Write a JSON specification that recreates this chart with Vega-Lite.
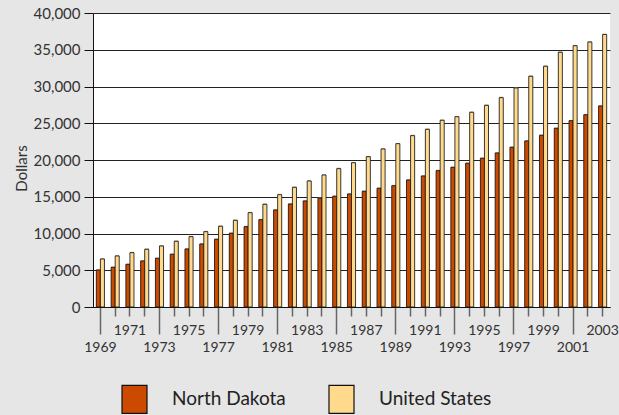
{
  "$schema": "https://vega.github.io/schema/vega-lite/v6.json",
  "width": 517,
  "height": 294,
  "autosize": "none",
  "padding": {"left": 93, "top": 13, "right": 9, "bottom": 108},
  "background": "#e6e6e6",
  "config": {
    "view": {"fill": "white", "stroke": null},
    "font": "Lato"
  },
  "data": {
    "values": [
      {"year": 1969, "series": "North Dakota", "value": 5030}, {"year": 1969, "series": "United States", "value": 6530},
      {"year": 1970, "series": "North Dakota", "value": 5400}, {"year": 1970, "series": "United States", "value": 6940},
      {"year": 1971, "series": "North Dakota", "value": 5800}, {"year": 1971, "series": "United States", "value": 7390},
      {"year": 1972, "series": "North Dakota", "value": 6260}, {"year": 1972, "series": "United States", "value": 7850},
      {"year": 1973, "series": "North Dakota", "value": 6620}, {"year": 1973, "series": "United States", "value": 8300},
      {"year": 1974, "series": "North Dakota", "value": 7170}, {"year": 1974, "series": "United States", "value": 8940},
      {"year": 1975, "series": "North Dakota", "value": 7890}, {"year": 1975, "series": "United States", "value": 9570},
      {"year": 1976, "series": "North Dakota", "value": 8570}, {"year": 1976, "series": "United States", "value": 10250},
      {"year": 1977, "series": "North Dakota", "value": 9210}, {"year": 1977, "series": "United States", "value": 10980},
      {"year": 1978, "series": "North Dakota", "value": 10030}, {"year": 1978, "series": "United States", "value": 11790},
      {"year": 1979, "series": "North Dakota", "value": 10930}, {"year": 1979, "series": "United States", "value": 12830},
      {"year": 1980, "series": "North Dakota", "value": 11880}, {"year": 1980, "series": "United States", "value": 13970},
      {"year": 1981, "series": "North Dakota", "value": 13200}, {"year": 1981, "series": "United States", "value": 15280},
      {"year": 1982, "series": "North Dakota", "value": 14010}, {"year": 1982, "series": "United States", "value": 16280},
      {"year": 1983, "series": "North Dakota", "value": 14420}, {"year": 1983, "series": "United States", "value": 17140},
      {"year": 1984, "series": "North Dakota", "value": 14790}, {"year": 1984, "series": "United States", "value": 17960},
      {"year": 1985, "series": "North Dakota", "value": 15060}, {"year": 1985, "series": "United States", "value": 18820},
      {"year": 1986, "series": "North Dakota", "value": 15370}, {"year": 1986, "series": "United States", "value": 19630},
      {"year": 1987, "series": "North Dakota", "value": 15740}, {"year": 1987, "series": "United States", "value": 20450},
      {"year": 1988, "series": "North Dakota", "value": 16150}, {"year": 1988, "series": "United States", "value": 21500},
      {"year": 1989, "series": "North Dakota", "value": 16500}, {"year": 1989, "series": "United States", "value": 22220},
      {"year": 1990, "series": "North Dakota", "value": 17280}, {"year": 1990, "series": "United States", "value": 23310},
      {"year": 1991, "series": "North Dakota", "value": 17820}, {"year": 1991, "series": "United States", "value": 24170},
      {"year": 1992, "series": "North Dakota", "value": 18550}, {"year": 1992, "series": "United States", "value": 25400},
      {"year": 1993, "series": "North Dakota", "value": 19000}, {"year": 1993, "series": "United States", "value": 25890},
      {"year": 1994, "series": "North Dakota", "value": 19550}, {"year": 1994, "series": "United States", "value": 26490},
      {"year": 1995, "series": "North Dakota", "value": 20230}, {"year": 1995, "series": "United States", "value": 27430},
      {"year": 1996, "series": "North Dakota", "value": 20950}, {"year": 1996, "series": "United States", "value": 28480},
      {"year": 1997, "series": "North Dakota", "value": 21730}, {"year": 1997, "series": "United States", "value": 29800},
      {"year": 1998, "series": "North Dakota", "value": 22590}, {"year": 1998, "series": "United States", "value": 31390},
      {"year": 1999, "series": "North Dakota", "value": 23360}, {"year": 1999, "series": "United States", "value": 32750},
      {"year": 2000, "series": "North Dakota", "value": 24310}, {"year": 2000, "series": "United States", "value": 34650},
      {"year": 2001, "series": "North Dakota", "value": 25350}, {"year": 2001, "series": "United States", "value": 35550},
      {"year": 2002, "series": "North Dakota", "value": 26160}, {"year": 2002, "series": "United States", "value": 36050},
      {"year": 2003, "series": "North Dakota", "value": 27350}, {"year": 2003, "series": "United States", "value": 37080}
    ]
  },
  "encoding": {
    "x": {
      "field": "year",
      "type": "ordinal",
      "scale": {"paddingInner": 0.45, "paddingOuter": 0.225},
      "axis": {
        "title": null,
        "labelAngle": 0,
        "labelOverlap": false,
        "labelFontSize": 14,
        "labelColor": "#333",
        "labelExpr": "datum.value % 2 == 1 ? datum.label : ''",
        "domainColor": "#111",
        "domainWidth": 1.2,
        "tickColor": "#666",
        "tickWidth": 1.5,
        "tickSize": {"condition": {"test": "(datum.value - 1969) % 4 == 0", "value": 27}, "value": 9},
        "labelPadding": {"condition": {"test": "(datum.value - 1969) % 4 == 0", "value": 6}, "value": 7},
        "labelBaseline": "top"
      }
    },
    "xOffset": {"field": "series", "type": "nominal", "scale": {"paddingInner": 0, "paddingOuter": 0}},
    "y": {
      "field": "value",
      "type": "quantitative",
      "scale": {"domain": [0, 40000]},
      "axis": {
        "title": "Dollars",
        "titleFontSize": 15,
        "titleFontWeight": "normal",
        "titleColor": "#333",
        "titleX": -72,
        "titleY": 155,
        "titleAlign": "center",
        "titleBaseline": "middle",
        "values": [0, 5000, 10000, 15000, 20000, 25000, 30000, 35000, 40000],
        "format": ",d",
        "labelFontSize": 15,
        "labelColor": "#333",
        "labelPadding": 4,
        "tickSize": 9,
        "tickColor": "#111",
        "domainColor": "#111",
        "grid": true,
        "gridColor": "#222",
        "gridWidth": 1
      }
    }
  },
  "layer": [
    {
      "mark": {"type": "bar", "color": "#999", "xOffset": 1.3, "yOffset": -0.8},
      "encoding": {}
    },
    {
      "mark": {"type": "bar", "stroke": "#111", "strokeWidth": 0.8},
      "encoding": {
        "color": {
          "field": "series",
          "type": "nominal",
          "scale": {"domain": ["North Dakota", "United States"], "range": ["#cc4a00", "#ffd98c"]},
          "legend": {
            "title": null,
            "orient": "none",
            "direction": "horizontal",
            "legendX": 26.5,
            "legendY": 371,
            "padding": 0,
            "symbolType": "M-0.893,-1H0.893V1H-0.893Z",
            "symbolSize": 784,
            "symbolStrokeColor": "#111",
            "symbolStrokeWidth": 1.2,
            "symbolOpacity": 1,
            "labelFontSize": 19,
            "labelColor": "#222",
            "labelOffset": 22.5,
            "columnPadding": 40,
            "labelLimit": 300
          }
        }
      }
    }
  ]
}
